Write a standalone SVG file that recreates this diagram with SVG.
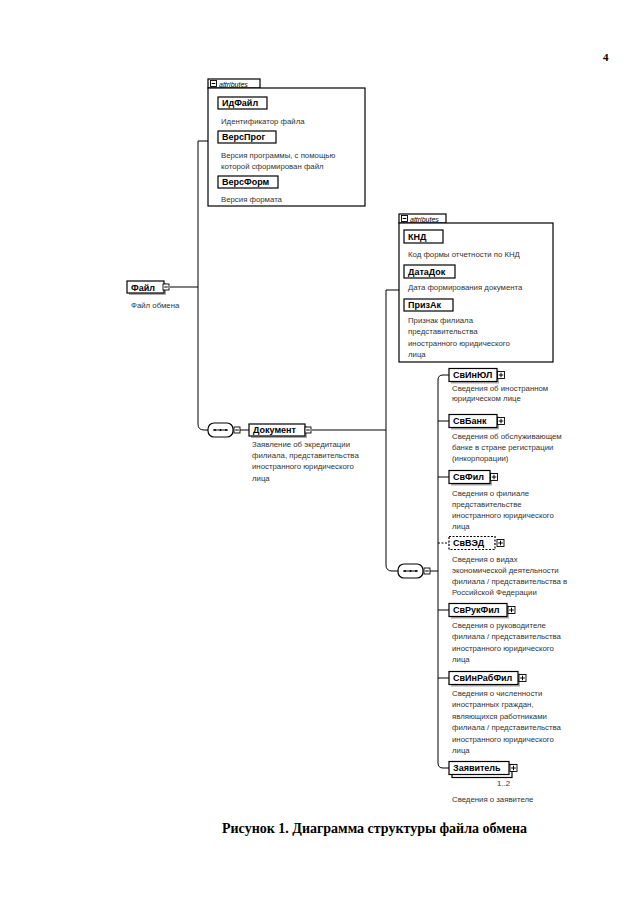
<svg xmlns="http://www.w3.org/2000/svg" width="640" height="905" viewBox="0 0 640 905">
<style>
.bg{fill:#fff}
.box{fill:#fff;stroke:#000;stroke-width:1.2}
.sh{fill:#aaa}
.lbl{font-family:"Liberation Sans",Arial,sans-serif;font-weight:bold;font-size:9px;fill:#000}
.desc{font-family:"Liberation Sans",Arial,sans-serif;font-size:7.8px;fill:#333}
.tab{font-family:"Liberation Sans",Arial,sans-serif;font-style:italic;font-size:7px;fill:#000}
.ln{stroke:#000;stroke-width:1;fill:none}
.dash{stroke-dasharray:2,1.5}
.cap{font-family:"Liberation Serif","Times New Roman",serif;font-weight:bold;font-size:14px;fill:#000}
.ic{fill:#fff;stroke:#000;stroke-width:0.9}
</style>
<defs>
<g id="plus"><rect class="ic" x="0" y="0" width="7" height="7"/><path class="ln" d="M1.2 3.5H5.8M3.5 1.2V5.8"/></g>
<g id="minus"><rect class="ic" x="0" y="0" width="6" height="6"/><path class="ln" d="M1.2 3H4.8"/></g>
<g id="seq"><rect class="box" x="0" y="0" width="25" height="14" rx="6"/><path class="ln" d="M5 7H20"/><circle cx="7" cy="7" r="1"/><circle cx="12.5" cy="7" r="1"/><circle cx="18" cy="7" r="1"/></g>
</defs>
<rect class="bg" x="0" y="0" width="640" height="905"/>

<g id="connectors">
<path class="ln" d="M170 287H198"/>
<path class="ln" d="M208 141H198V424Q198 430 204 430H208"/>
<path class="ln" d="M240 430H249"/>
<path class="ln" d="M312 430H386"/>
<path class="ln" d="M399 290H386V565Q386 571 392 571H398"/>
<path class="ln" d="M430 571H438"/>
<path class="ln" d="M449 375H443Q438 375 438 380V763Q438 768 443 768H449"/>
<path class="ln" d="M438 421H449"/>
<path class="ln" d="M438 477H449"/>
<path class="ln dash" d="M438 543H449"/>
<path class="ln" d="M438 610H449"/>
<path class="ln" d="M438 678H449"/>
</g>

<g id="n-fail">
<rect class="sh" x="129" y="283" width="37" height="12"/>
<rect class="box" x="127" y="281" width="37" height="12"/>
<text class="lbl" x="131" y="290.5">Файл</text>
<use href="#minus" x="163" y="284"/>
<text class="desc" x="131" y="308">Файл обмена</text>
</g>

<g id="n-attrs1">
<rect class="box" x="208" y="79" width="52" height="9"/>
<use href="#minus" x="210.5" y="80.5"/>
<text class="tab" x="219" y="86.5">attributes</text>
<rect class="box" x="208" y="88" width="157" height="118"/>
<rect class="box" x="218" y="97" width="49" height="12"/>
<text class="lbl" x="222" y="106.3">ИдФайл</text>
<text class="desc" x="221" y="124">Идентификатор файла</text>
<rect class="box" x="218" y="131" width="58" height="12"/>
<text class="lbl" x="222" y="140.3">ВерсПрог</text>
<text class="desc" x="221" y="158">Версия программы, с помощью</text>
<text class="desc" x="221" y="169">которой сформирован файл</text>
<rect class="box" x="218" y="176" width="60" height="12"/>
<text class="lbl" x="222" y="185.3">ВерсФорм</text>
<text class="desc" x="221" y="202">Версия формата</text>
</g>

<g id="c-seq1">
<use href="#seq" x="208" y="423"/>
<use href="#minus" x="234" y="427"/>
</g>

<g id="n-dokument">
<rect class="sh" x="251" y="426" width="56" height="12"/>
<rect class="box" x="249" y="424" width="56" height="12"/>
<text class="lbl" x="253" y="433.3">Документ</text>
<use href="#minus" x="305" y="427"/>
<text class="desc" x="252" y="447">Заявление об экредитации</text>
<text class="desc" x="252" y="458">филиала, представительства</text>
<text class="desc" x="252" y="469">иностранного юридического</text>
<text class="desc" x="252" y="481">лица</text>
</g>

<g id="n-attrs2">
<rect class="box" x="399" y="214" width="47" height="9"/>
<use href="#minus" x="401.5" y="215.5"/>
<text class="tab" x="410" y="221.5">attributes</text>
<rect class="box" x="399" y="223" width="154" height="139"/>
<rect class="box" x="404" y="230" width="39" height="13"/>
<text class="lbl" x="408" y="239.8">КНД</text>
<text class="desc" x="408" y="257">Код формы отчетности по КНД</text>
<rect class="box" x="404" y="265" width="51" height="13"/>
<text class="lbl" x="408" y="274.8">ДатаДок</text>
<text class="desc" x="408" y="290">Дата формирования документа</text>
<rect class="box" x="404" y="299" width="49" height="12"/>
<text class="lbl" x="408" y="308.3">ПризАк</text>
<text class="desc" x="408" y="323">Признак филиала</text>
<text class="desc" x="408" y="334">представительства</text>
<text class="desc" x="408" y="346">иностранного юридического</text>
<text class="desc" x="408" y="357">лица</text>
</g>

<g id="c-seq2">
<use href="#seq" x="398" y="564"/>
<use href="#minus" x="424" y="568"/>
</g>

<g id="n-svinul">
<rect class="sh" x="451" y="370.5" width="48" height="13"/>
<rect class="box" x="449" y="368.5" width="48" height="13"/>
<text class="lbl" x="453" y="378.3">СвИнЮЛ</text>
<use href="#plus" x="497.5" y="371.5"/>
<text class="desc" x="452" y="391">Сведения об иностранном</text>
<text class="desc" x="452" y="401">юридическом лице</text>
</g>

<g id="n-svbank">
<rect class="sh" x="451" y="416.5" width="48" height="13"/>
<rect class="box" x="449" y="414.5" width="48" height="13"/>
<text class="lbl" x="453" y="424.3">СвБанк</text>
<use href="#plus" x="497.5" y="417.5"/>
<text class="desc" x="452" y="439">Сведения об обслуживающем</text>
<text class="desc" x="452" y="450">банке в стране регистрации</text>
<text class="desc" x="452" y="461">(инкорпорации)</text>
</g>

<g id="n-svfil">
<rect class="sh" x="451" y="472.5" width="41" height="13"/>
<rect class="box" x="449" y="470.5" width="41" height="13"/>
<text class="lbl" x="453" y="480.3">СвФил</text>
<use href="#plus" x="490.5" y="473.5"/>
<text class="desc" x="452" y="496">Сведения о филиале</text>
<text class="desc" x="452" y="507">представительстве</text>
<text class="desc" x="452" y="518">иностранного юридического</text>
<text class="desc" x="452" y="529">лица</text>
</g>

<g id="n-svved">
<rect class="box dash" x="449" y="536.5" width="46" height="13"/>
<text class="lbl" x="453" y="546.3">СвВЭД</text>
<use href="#plus" x="497" y="539.5"/>
<text class="desc" x="452" y="562">Сведения о видах</text>
<text class="desc" x="452" y="573">экономической деятельности</text>
<text class="desc" x="452" y="584">филиала / представительства в</text>
<text class="desc" x="452" y="595">Российской Федерации</text>
</g>

<g id="n-svrukfil">
<rect class="sh" x="451" y="605.5" width="58" height="13"/>
<rect class="box" x="449" y="603.5" width="58" height="13"/>
<text class="lbl" x="453" y="613.3">СвРукФил</text>
<use href="#plus" x="508" y="606.5"/>
<text class="desc" x="452" y="628">Сведения о руководителе</text>
<text class="desc" x="452" y="639">филиала / представительства</text>
<text class="desc" x="452" y="651">иностранного юридического</text>
<text class="desc" x="452" y="662">лица</text>
</g>

<g id="n-svinrabfil">
<rect class="sh" x="451" y="673.5" width="69" height="13"/>
<rect class="box" x="449" y="671.5" width="69" height="13"/>
<text class="lbl" x="453" y="681.3">СвИнРабФил</text>
<use href="#plus" x="519" y="674.5"/>
<text class="desc" x="452" y="696">Сведения о численности</text>
<text class="desc" x="452" y="707">иностранных граждан,</text>
<text class="desc" x="452" y="719">являющихся работниками</text>
<text class="desc" x="452" y="730">филиала / представительства</text>
<text class="desc" x="452" y="742">иностранного юридического</text>
<text class="desc" x="452" y="753">лица</text>
</g>

<g id="n-zayavitel">
<rect class="box" x="452" y="764.5" width="60" height="13"/>
<rect class="box" x="449" y="761.5" width="60" height="13"/>
<text class="lbl" x="453" y="771.3">Заявитель</text>
<use href="#plus" x="510" y="764.5"/>
<text class="desc" x="497" y="786">1..2</text>
<text class="desc" x="452" y="802">Сведения о заявителе</text>
</g>

<text class="cap" x="222" y="833">Рисунок 1. Диаграмма структуры файла обмена</text>
<text class="cap" x="603" y="61" style="font-size:11px">4</text>
</svg>
